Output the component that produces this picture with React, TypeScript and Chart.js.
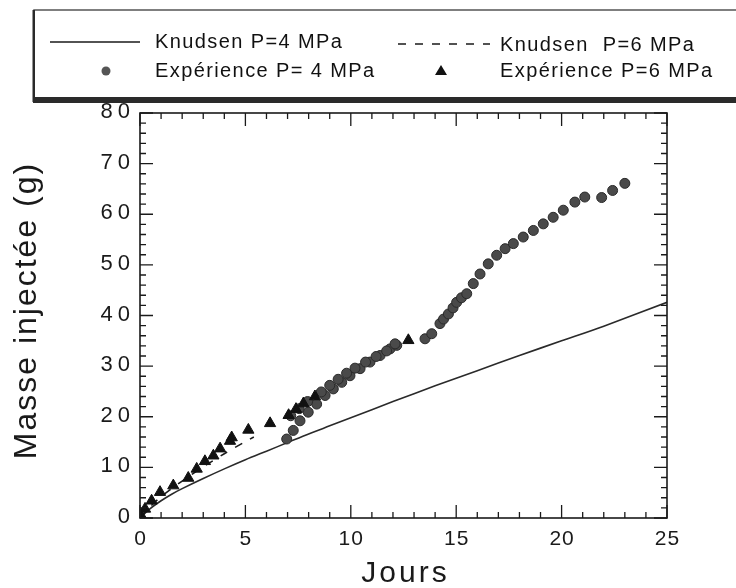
import React, { useEffect, useRef } from "react";
import { Chart, registerables } from "chart.js";

Chart.register(...registerables);

// ---- Data ----
const knudsen4X = [0, 0.5, 1, 1.5, 2, 3, 4, 5, 6, 7, 8, 9, 10, 12, 14, 16, 18, 20, 22, 25];
const knudsen4Y = [0, 1.9, 3.4, 4.7, 5.8, 7.8, 9.7, 11.5, 13.2, 14.9, 16.6, 18.2, 19.8, 23.0, 26.1, 29.1, 32.1, 35.0, 37.9, 42.6];

const knudsen6X = [0, 0.5, 1, 2, 3, 4, 5, 5.4];
const knudsen6Y = [0, 2.3, 4.2, 7.3, 10.1, 12.7, 15.1, 16.0];

const exp4X = [
  6.96, 7.27, 7.59, 7.98, 8.38, 8.78, 9.17, 9.57, 9.96, 10.44, 10.91, 11.39, 11.86, 12.18,
  7.15, 7.55, 7.95, 8.6, 9.0, 9.4, 9.8, 10.2, 10.7, 11.2, 11.7, 12.1,
  13.52, 13.84, 14.23, 14.4, 14.63, 14.85, 15.02, 15.25, 15.5, 15.81, 16.13, 16.52, 16.92, 17.32,
  17.71, 18.18, 18.66, 19.13, 19.6, 20.08, 20.63, 21.1, 21.9, 22.42, 23.0,
];
const exp4Y = [
  15.6, 17.3, 19.2, 20.9, 22.5, 24.2, 25.5, 26.8, 28.1, 29.5, 30.8, 32.1, 33.4, 34.1,
  20.2, 21.6, 23.0, 24.9, 26.2, 27.4, 28.6, 29.6, 30.8, 31.9, 33.0, 34.4,
  35.4, 36.4, 38.4, 39.3, 40.3, 41.5, 42.6, 43.5, 44.3, 46.3, 48.2, 50.2, 51.9, 53.2,
  54.2, 55.5, 56.8, 58.1, 59.4, 60.8, 62.4, 63.4, 63.3, 64.7, 66.1,
];

const exp6X = [0.05, 0.24, 0.55, 0.95, 1.58, 2.29, 2.69, 3.08, 3.48, 3.8, 4.27, 4.35, 5.14, 6.17, 7.05, 7.4, 7.75, 8.3, 12.73];
const exp6Y = [0.5, 1.8, 3.4, 5.1, 6.4, 7.9, 9.7, 11.2, 12.3, 13.7, 15.2, 15.9, 17.4, 18.7, 20.3, 21.5, 22.6, 24.0, 35.1];

const xTickValues = [0, 5, 10, 15, 20, 25];
const yTickValues = [0, 10, 20, 30, 40, 50, 60, 70, 80];
const xMinorStep = 1;
const yMinorStep = 2;

const xTitle = "Jours";
const yTitle = "Masse injectée (g)";
const legendLabels = ["Knudsen P=4 MPa", "Knudsen  P=6 MPa", "Expérience P= 4 MPa", "Expérience P=6 MPa"];

const FONT = "'Liberation Sans', Arial, Helvetica, sans-serif";

const toPts = (xs: number[], ys: number[]) => xs.map((x, i) => ({ x, y: ys[i] }));

const decorPlugin = {
  id: "decor",
  afterDraw(chart: any) {
    const ctx: CanvasRenderingContext2D = chart.ctx;
    const xs = chart.scales.x;
    const ys = chart.scales.y;
    const { left, right, top, bottom } = chart.chartArea;
    ctx.save();
    ctx.strokeStyle = "#1a1a1a";
    ctx.fillStyle = "#1a1a1a";
    // frame
    ctx.lineWidth = 1.6;
    ctx.strokeRect(left, top, right - left, bottom - top);
    // ticks (inward, mirrored)
    ctx.lineWidth = 1.3;
    for (let v = xs.min; v <= xs.max + 1e-9; v += xMinorStep) {
      const px = xs.getPixelForValue(v);
      const major = xTickValues.includes(Math.round(v * 1000) / 1000);
      const len = major ? 13 : 6;
      ctx.beginPath();
      ctx.moveTo(px, bottom);
      ctx.lineTo(px, bottom - len);
      ctx.moveTo(px, top);
      ctx.lineTo(px, top + len);
      ctx.stroke();
    }
    for (let v = ys.min; v <= ys.max + 1e-9; v += yMinorStep) {
      const py = ys.getPixelForValue(v);
      const major = yTickValues.includes(Math.round(v * 1000) / 1000);
      const len = major ? 13 : 6;
      ctx.beginPath();
      ctx.moveTo(left, py);
      ctx.lineTo(left + len, py);
      ctx.moveTo(right, py);
      ctx.lineTo(right - len, py);
      ctx.stroke();
    }
    // tick labels
    ctx.fillStyle = "#1a1a1a";
    (ctx as any).letterSpacing = "5px";
    ctx.font = `22px ${FONT}`;
    ctx.textAlign = "right";
    ctx.textBaseline = "middle";
    yTickValues.forEach((v) => {
      ctx.fillText(String(v), left - 5, ys.getPixelForValue(v) - 1);
    });
    (ctx as any).letterSpacing = "1px";
    ctx.font = `21px ${FONT}`;
    ctx.textAlign = "center";
    ctx.textBaseline = "alphabetic";
    xTickValues.forEach((v) => {
      ctx.fillText(String(v), xs.getPixelForValue(v) + 0.5, bottom + 27);
    });
    // axis titles
    (ctx as any).letterSpacing = "3px";
    ctx.font = `30px ${FONT}`;
    ctx.fillText(xTitle, (left + right) / 2 + 2, bottom + 64);
    ctx.save();
    (ctx as any).letterSpacing = "2px";
    ctx.font = `32px ${FONT}`;
    ctx.translate(36, (top + bottom) / 2 - 5);
    ctx.rotate(-Math.PI / 2);
    ctx.textAlign = "center";
    ctx.fillText(yTitle, 0, 0);
    ctx.restore();

    // legend box (drawn last, overlapping the top tick label like the original)
    (ctx as any).letterSpacing = "0px";
    ctx.fillStyle = "#ffffff";
    ctx.fillRect(34, 10, 720, 90);
    ctx.strokeStyle = "#555";
    ctx.lineWidth = 1.5;
    ctx.strokeRect(34, 10, 720, 90);
    ctx.fillStyle = "#2a2a2a";
    ctx.fillRect(33, 97, 720, 6);
    ctx.fillRect(32.5, 10, 2.5, 92);

    const row1 = 42;
    const row2 = 71;
    // solid sample
    ctx.strokeStyle = "#1a1a1a";
    ctx.lineWidth = 1.5;
    ctx.beginPath();
    ctx.moveTo(50, row1);
    ctx.lineTo(140, row1);
    ctx.stroke();
    // dashed sample
    ctx.setLineDash([8, 9]);
    ctx.beginPath();
    ctx.moveTo(398, row1 + 2);
    ctx.lineTo(490, row1 + 2);
    ctx.stroke();
    ctx.setLineDash([]);
    // circle sample
    ctx.fillStyle = "#555";
    ctx.beginPath();
    ctx.arc(106, row2, 4.5, 0, Math.PI * 2);
    ctx.fill();
    // triangle sample
    ctx.fillStyle = "#111";
    ctx.beginPath();
    ctx.moveTo(441, row2 - 6);
    ctx.lineTo(447, row2 + 4);
    ctx.lineTo(435, row2 + 4);
    ctx.closePath();
    ctx.fill();

    ctx.fillStyle = "#111";
    ctx.font = `20px ${FONT}`;
    (ctx as any).letterSpacing = "1.4px";
    ctx.textAlign = "left";
    ctx.textBaseline = "middle";
    ctx.fillText(legendLabels[0], 155, row1);
    ctx.fillText(legendLabels[1], 500, row1 + 3);
    ctx.fillText(legendLabels[2], 155, row2);
    ctx.fillText(legendLabels[3], 500, row2);
    ctx.restore();
  },
};

export default function App() {
  const ref = useRef<HTMLCanvasElement | null>(null);
  useEffect(() => {
    document.body.style.margin = "0";
    const canvas = ref.current;
    if (!canvas) return;
    const chart = new Chart(canvas, {
      type: "scatter",
      data: {
        datasets: [
          {
            label: legendLabels[0],
            data: toPts(knudsen4X, knudsen4Y),
            showLine: true,
            borderColor: "#2a2a2a",
            borderWidth: 1.6,
            pointRadius: 0,
            tension: 0.3,
            order: 4,
          },
          {
            label: legendLabels[1],
            data: toPts(knudsen6X, knudsen6Y),
            showLine: true,
            borderColor: "#1a1a1a",
            borderWidth: 1.6,
            borderDash: [8, 9],
            pointRadius: 0,
            tension: 0.3,
            order: 3,
          },
          {
            label: legendLabels[2],
            data: toPts(exp4X, exp4Y),
            showLine: false,
            pointStyle: "circle",
            pointRadius: 5,
            backgroundColor: "#4a4a4a",
            borderColor: "#2a2a2a",
            borderWidth: 1,
            order: 2,
          },
          {
            label: legendLabels[3],
            data: toPts(exp6X, exp6Y),
            showLine: false,
            pointStyle: "triangle",
            pointRadius: 6.5,
            backgroundColor: "#111",
            borderColor: "#111",
            borderWidth: 1,
            order: 1,
          },
        ],
      },
      options: {
        animation: false,
        responsive: false,
        maintainAspectRatio: false,
        layout: { padding: { top: 113, right: 69, left: 0, bottom: 0 } },
        plugins: { legend: { display: false }, tooltip: { enabled: false } },
        scales: {
          x: {
            type: "linear",
            min: 0,
            max: 25,
            ticks: { display: false, stepSize: 5 },
            grid: { display: false },
            border: { display: false },
            afterFit: (s: any) => {
              s.height = 70;
            },
          },
          y: {
            type: "linear",
            min: 0,
            max: 80,
            ticks: { display: false, stepSize: 10 },
            grid: { display: false },
            border: { display: false },
            afterFit: (s: any) => {
              s.width = 140;
            },
          },
        },
      },
      plugins: [decorPlugin],
    } as any);
    return () => chart.destroy();
  }, []);
  return <canvas ref={ref} width={736} height={588} style={{ display: "block", width: 736, height: 588 }} />;
}
